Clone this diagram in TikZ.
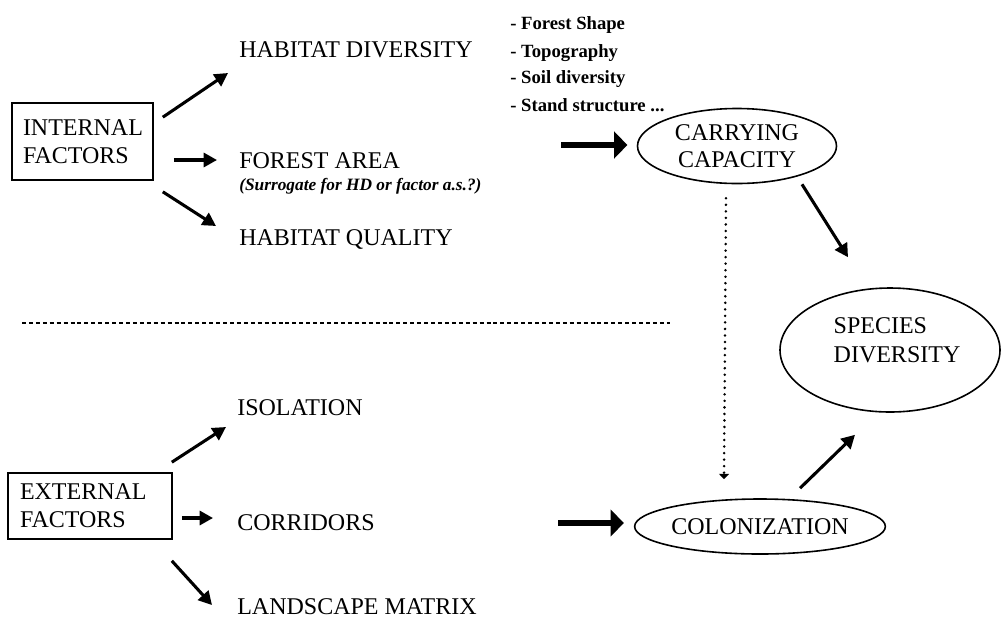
\documentclass[tikz,border=0pt]{standalone}
\usepackage{fontspec}
\setmainfont{Liberation Serif}
\usetikzlibrary{arrows.meta,shapes.geometric}
\begin{document}
\begin{tikzpicture}[x=0.75pt,y=-0.75pt,
  lbl/.style={anchor=base west,inner sep=0pt,font=\fontsize{18}{20.5}\selectfont},
  lst/.style={anchor=base west,inner sep=0pt,font=\bfseries\fontsize{14}{16}\selectfont},
  factorbox/.style={draw,line width=1.2pt,align=left,inner ysep=0pt,font=\fontsize{18}{21}\selectfont},
  oval/.style={draw,ellipse,line width=1.2pt,inner sep=0pt,align=center,font=\fontsize{18}{20.25}\selectfont},
  arr/.style={line width=2.3pt,-{Triangle[length=10pt,width=10.5pt]}},
  bigarr/.style={line width=3.8pt,-{Triangle[length=10pt,width=20pt]}},
  dotarr/.style={line width=2.1pt,dash pattern=on 0pt off 4.9pt,line cap=round,-{Triangle[length=4pt,width=7.5pt]}},
  sep/.style={line width=1.1pt,dash pattern=on 3pt off 2.2pt}]
\useasboundingbox (0,0) rectangle (1003,619);
% left boxes
\node[factorbox,minimum width=105.75pt,minimum height=57.75pt,text width=89.25pt,inner xsep=8.25pt] (inf) at (82.5,141.5) {INTERNAL\\FACTORS};
\node[factorbox,minimum width=123pt,minimum height=49.5pt,text width=105pt,inner xsep=9pt] (exf) at (90,506) {EXTERNAL\\FACTORS};
% internal factor labels
\node[lbl] (hd) at (239,57) {HABITAT DIVERSITY};
\node[lbl] (fa) at (239,168) {FOREST AREA};
\node[anchor=base west,inner sep=0pt,font=\bfseries\itshape\fontsize{13}{15}\selectfont] (sur) at (239,190) {(Surrogate for HD or factor a.s.?)};
\node[lbl] (hq) at (239,245) {HABITAT QUALITY};
% list
\node[lst] (l1) at (510,29) {- Forest Shape};
\node[lst] (l2) at (510,57) {- Topography};
\node[lst] (l3) at (510,83) {- Soil diversity};
\node[lst] (l4) at (510,111) {- Stand structure ...};
% external factor labels
\node[lbl] (iso) at (237,415) {ISOLATION};
\node[lbl] (cor) at (237,530) {CORRIDORS};
\node[lbl] (lm) at (237,614) {LANDSCAPE MATRIX};
% ovals
\node[oval,minimum width=149.25pt,minimum height=56.25pt] (cc) at (737,146) {CARRYING\\CAPACITY};
\node[oval,minimum width=157.5pt,minimum height=41.25pt] (col) at (760,526.5) {COLONIZATION};
\node[oval,minimum width=165pt,minimum height=93pt] (sd) at (890,350) {};
\node[anchor=center,inner sep=0pt,align=left,font=\fontsize{18}{21.75}\selectfont] (sdt) at (897,340) {SPECIES\\DIVERSITY};
% separator
\draw[sep] (22,323) -- (670,323);
% internal arrows
\draw[arr] ([shift={(9,15)}]inf.north east) -- ([shift={(-11,16)}]hd.base west);
\draw[arr] ([shift={(20,18.5)}]inf.east) -- ([shift={(-22,-8)}]fa.base west);
\draw[arr] ([shift={(9,11)}]inf.south east) -- ([shift={(-23,-19)}]hq.base west);
% external arrows
\draw[arr] ([shift={(-1,-10)}]exf.north east) -- ([shift={(-11,12)}]iso.base west);
\draw[arr] ([shift={(9,12)}]exf.east) -- ([shift={(-24,-12)}]cor.base west);
\draw[arr] ([shift={(-1,21)}]exf.south east) -- ([shift={(-25,-9)}]lm.base west);
% big arrows
\coordinate (ccin) at (561,145);
\coordinate (colin) at (558,523);
\draw[bigarr,shorten >=7pt] (ccin) -- (ccin -| cc.west);
\draw[bigarr,shorten >=7.5pt] (colin) -- (colin -| col.west);
% right arrows
\draw[arr] ([shift={(65,0)}]cc.south) -- ([shift={(-42,-30)}]sd.north);
\draw[arr] ([shift={(40,-10)}]col.north) -- ([shift={(-35,22)}]sd.south);
\draw[dotarr] ([shift={(-11,14)}]cc.south) -- ([shift={(-36,-19)}]col.north);
\end{tikzpicture}
\end{document}
